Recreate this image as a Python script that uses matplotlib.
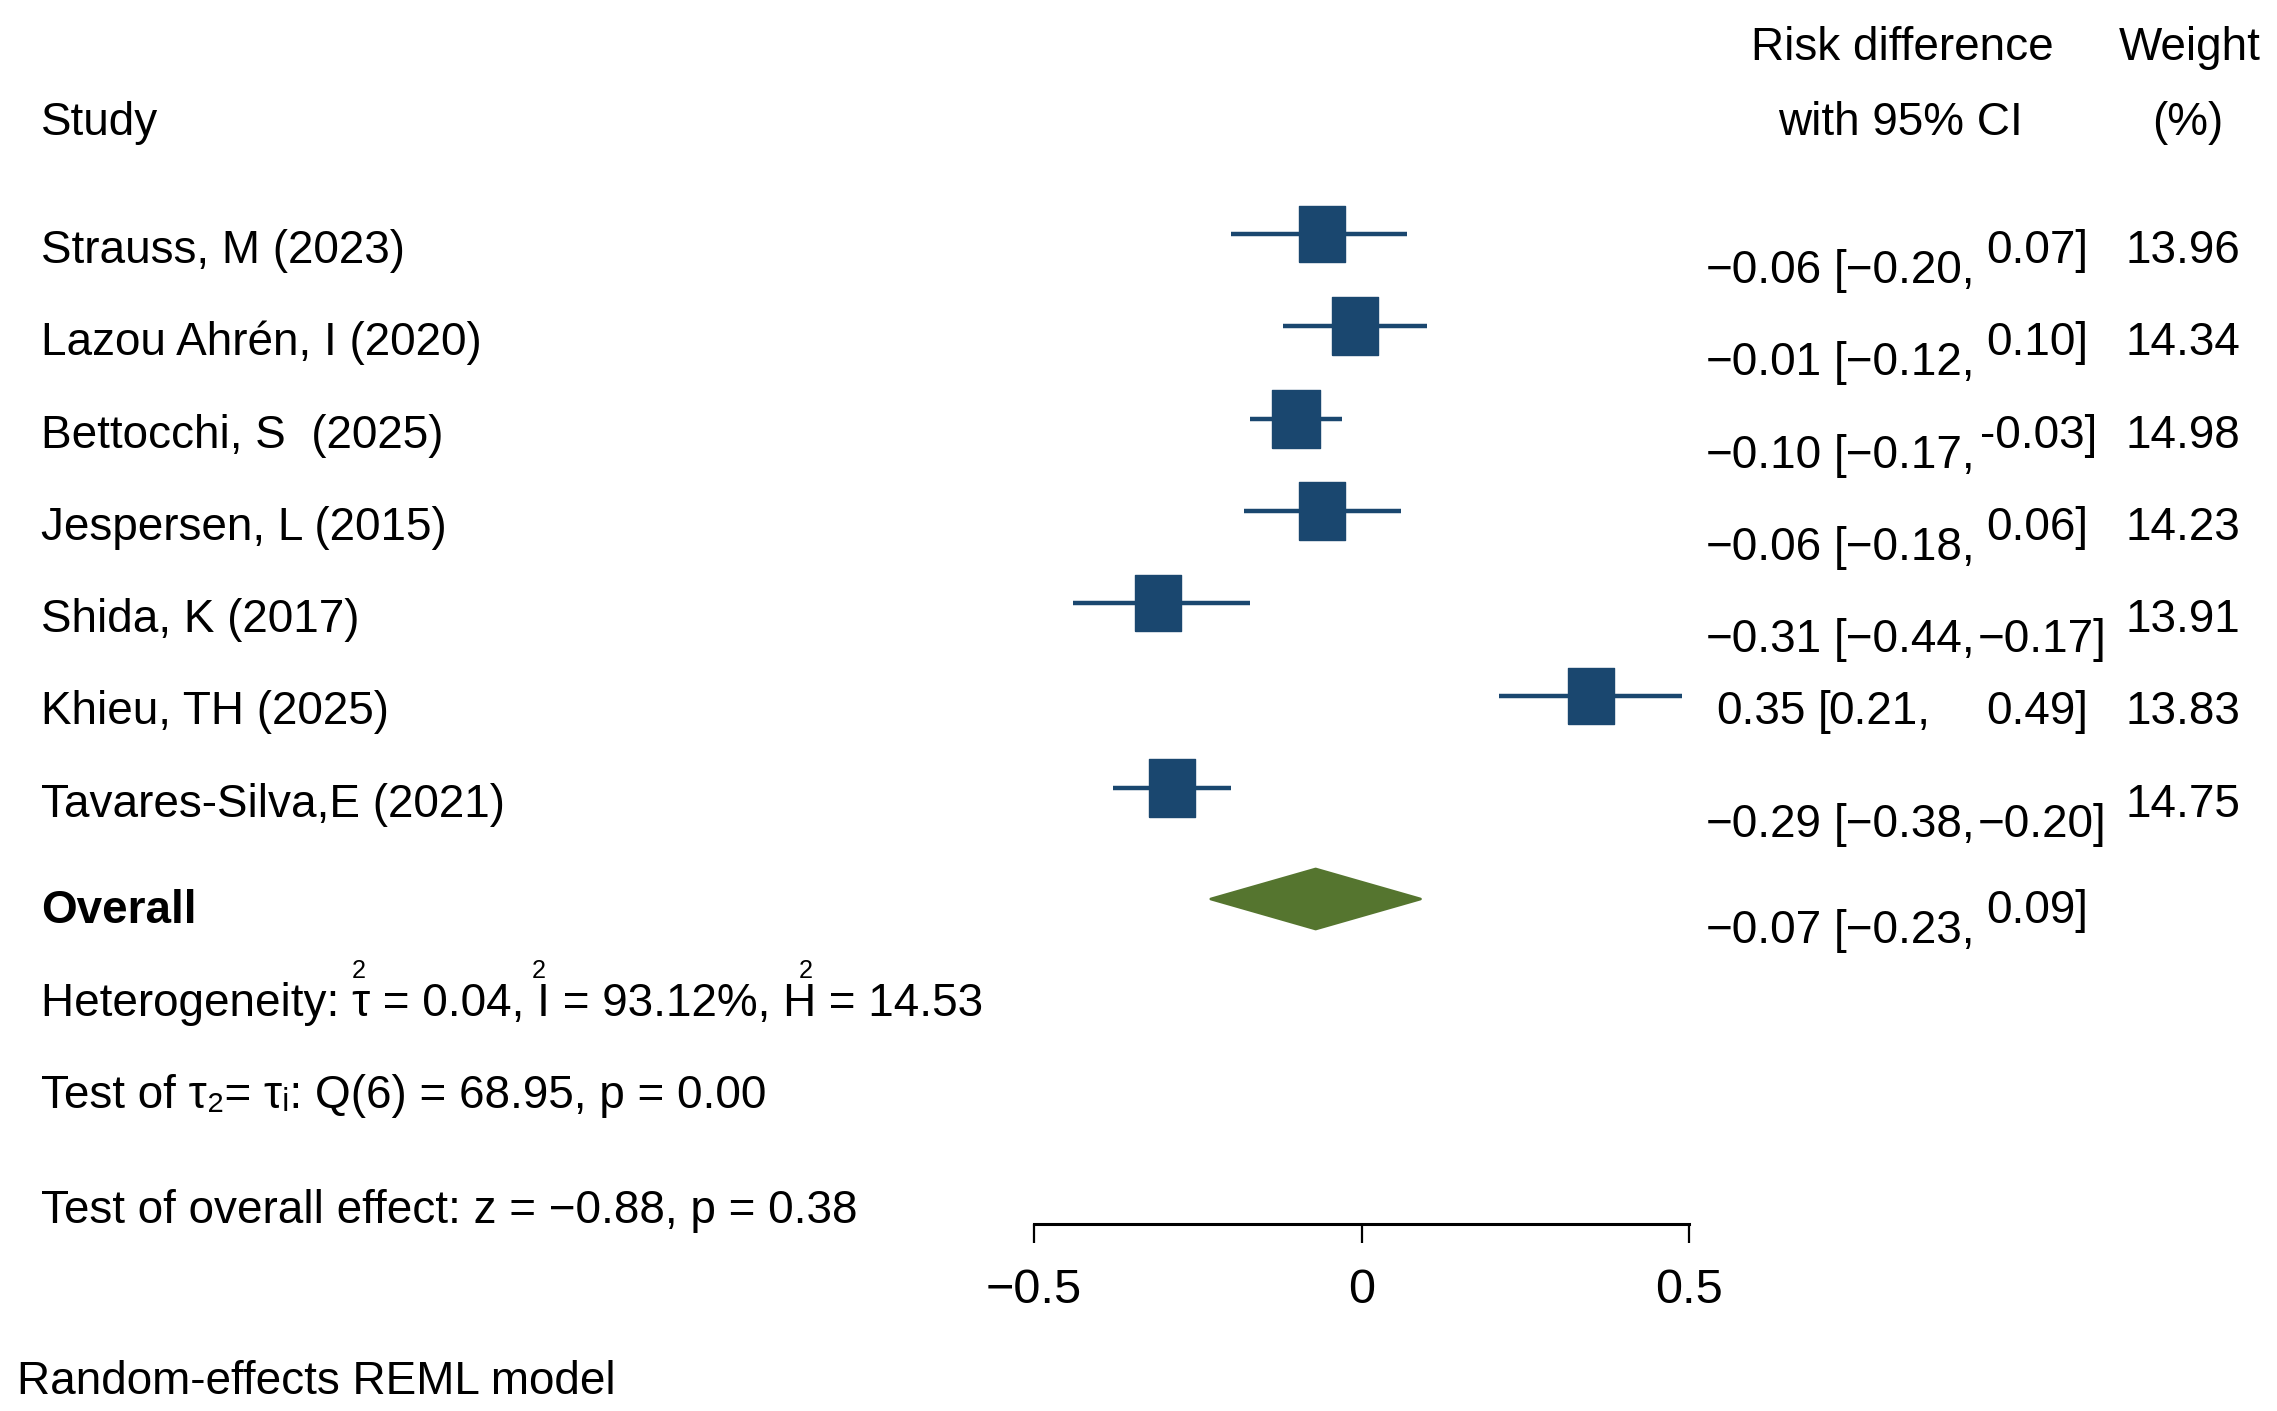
import matplotlib
matplotlib.use("Agg")
import matplotlib.pyplot as plt
from matplotlib import font_manager

# forest plot data (risk difference, 95% CI, weight %)
studies = ["Strauss, M (2023)", "Lazou Ahrén, I (2020)", "Bettocchi, S  (2025)",
           "Jespersen, L (2015)", "Shida, K (2017)", "Khieu, TH (2025)",
           "Tavares-Silva,E (2021)"]
rd = [-0.06, -0.01, -0.10, -0.06, -0.31, 0.35, -0.29]
ci_lo = [-0.20, -0.12, -0.17, -0.18, -0.44, 0.21, -0.38]
ci_hi = [0.07, 0.10, -0.03, 0.06, -0.17, 0.49, -0.20]
weights = [13.96, 14.34, 14.98, 14.23, 13.91, 13.83, 14.75]
overall_rd = -0.07
overall_lo = -0.23
overall_hi = 0.09
# heterogeneity line: pieces, the "2" sits above the symbol that ends a piece
het_parts = ["Heterogeneity: τ", " = 0.04, I", " = 93.12%, H", " = 14.53"]
q_text = "Test of τ₂= τᵢ: Q(6) = 68.95, p = 0.00"
z_text = "Test of overall effect: z = −0.88, p = 0.38"
model_text = "Random-effects REML model"
xticks = [-0.5, 0, 0.5]
xticklabels = ["−0.5", "0", "0.5"]

W, H = 2277, 1411
NAVY = "#1a476f"
GREEN = "#55752f"

names = {f.name for f in font_manager.fontManager.ttflist}
if "Liberation Sans Narrow" in names:
    FONT, FS = "Liberation Sans Narrow", 40
else:
    FONT, FS = "Liberation Sans", 33
plt.rcParams["font.family"] = [FONT, "DejaVu Sans"]

fig = plt.figure(figsize=(W / 100, H / 100), dpi=100)
renderer = fig.canvas.get_renderer()


def put(x, y, s, ha="left", size=FS, **kw):
    # place text by pixel position (baseline)
    return fig.text(x / W, 1 - y / H, s, ha=ha, va="baseline", fontsize=size, **kw)


def fmt(v, minus="−"):
    s = "%.2f" % abs(v)
    return (minus + s) if v < 0 else s


# plot region: x from -0.5 to 0.5 spans px 1034..1689, axis line at y=1224
x0, x1, axis_y = 1034, 1689, 1224
ax = fig.add_axes([x0 / W, 1 - axis_y / H, (x1 - x0) / W, axis_y / H])
ax.set_xlim(-0.5, 0.5)
ax.set_ylim(axis_y, 0)
for side in ["top", "right", "left"]:
    ax.spines[side].set_visible(False)
ax.spines["bottom"].set_linewidth(2.2)
ax.set_yticks([])
ax.set_xticks(xticks)
ax.set_xticklabels(xticklabels)
ax.tick_params(axis="x", direction="out", length=14, width=1.6, pad=18,
               labelsize=FS + 2)

row0, step = 234, 92.3
rows = [row0 + step * i for i in range(len(studies))]
overall_y = 899

# CI lines and boxes
ax.hlines(rows, ci_lo, ci_hi, color=NAVY, lw=3.2, zorder=2)
box = [(-23, -28.5), (23, -28.5), (23, 28.5), (-23, 28.5), (-23, -28.5)]
for y, v, w in zip(rows, rd, weights):
    ax.plot([v], [y], marker=box, markersize=41 * (w / 14.2) ** 0.5,
            color=NAVY, mec=NAVY, zorder=3, clip_on=False)

# overall diamond
ax.fill([overall_lo, overall_rd, overall_hi, overall_rd],
        [overall_y, overall_y - 30, overall_y, overall_y + 30],
        color=GREEN, ec=GREEN, lw=2, joinstyle="round", zorder=3)

# headers
put(41, 135, "Study")
put(1902, 60, "Risk difference", ha="center")
put(1900, 135, "with 95% CI", ha="center")
put(2190, 60, "Weight", ha="center")
put(2188, 135, "(%)", ha="center")

drop = 20
for i, name in enumerate(studies):
    base = rows[i] + 29
    put(41, base, name)
    if rd[i] < 0:
        put(1822, base + drop, fmt(rd[i]), ha="right")
    else:
        put(1806, base, fmt(rd[i]), ha="right")
    if ci_lo[i] < 0:
        put(1975, base + drop, "[" + fmt(ci_lo[i]) + ",", ha="right")
    else:
        put(1818, base, "[")
        put(1930, base, fmt(ci_lo[i]) + ",", ha="right")
    if ci_hi[i] >= 0:
        put(2088, base, fmt(ci_hi[i]) + "]", ha="right")
    elif ci_hi[i] > -0.1:
        # short negative bound is printed with a hyphen, not lowered
        put(1980, base, fmt(ci_hi[i], "-") + "]")
    else:
        put(1978, base + drop, fmt(ci_hi[i]) + "]")
    put(2240, base, "%.2f" % weights[i], ha="right")

ob = overall_y + 24
put(41, ob, "Overall", fontweight="bold")
put(1822, ob + drop, fmt(overall_rd), ha="right")
put(1975, ob + drop, "[" + fmt(overall_lo) + ",", ha="right")
put(2088, ob, fmt(overall_hi) + "]", ha="right")

# heterogeneity line with the small 2 placed over tau, I and H
hx, hy = 41, 1016
for j, part in enumerate(het_parts):
    t = put(hx, hy, part)
    hx += t.get_window_extent(renderer).width
    if j < len(het_parts) - 1:
        put(hx - 11, hy - 38, "2", ha="center", size=FS * 0.55)

put(41, 1108, q_text)
put(41, 1223, z_text)
put(17, 1394, model_text)

fig.savefig("out.png", dpi=100, facecolor="white")
